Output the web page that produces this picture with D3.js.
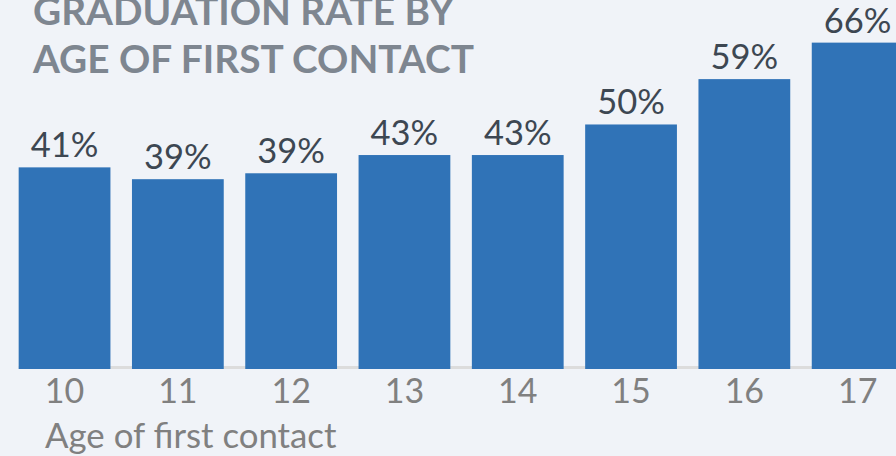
<!DOCTYPE html>
<html>
<head>
<meta charset="utf-8">
<script src="https://cdn.jsdelivr.net/npm/d3@7"></script>
<style>
  html, body { margin: 0; padding: 0; background: #f0f3f8; overflow: hidden; }
  svg { display: block; font-family: Lato, "Open Sans", sans-serif; }
</style>
</head>
<body>
<div id="chart"></div>
<script>
/* Graduation rate by age of first contact */

const ages = ["10", "11", "12", "13", "14", "15", "16", "17"];
const rates = [40.9, 38.5, 39.7, 43.4, 43.4, 49.6, 58.8, 66.2];
const rateLabels = ["41%", "39%", "39%", "43%", "43%", "50%", "59%", "66%"];
const titleLines = ["GRADUATION RATE BY", "AGE OF FIRST CONTACT"];
const xTitle = "Age of first contact";

const width = 896,
  height = 456,
  baseline = 369;

const svg = d3.select("#chart")
  .append("svg")
  .attr("width", width)
  .attr("height", height);

svg.append("rect")
  .attr("width", width)
  .attr("height", height)
  .attr("fill", "#f0f3f8");

const x = d3.scaleBand()
  .domain(ages)
  .range([7.9, 914.3])
  .paddingInner(0.19)
  .paddingOuter(0.095);

const y = d3.scaleLinear()
  .domain([0, 70])
  .range([baseline, baseline - 70 * 4.93]);

// title
svg.append("g")
  .selectAll("text")
  .data(titleLines)
  .join("text")
  .attr("x", 33)
  .attr("y", (d, i) => 25 + i * 48)
  .attr("font-size", 38.8)
  .attr("font-weight", "bold")
  .attr("fill", "#7e8690")
  .text(d => d);

// baseline rule
svg.append("rect")
  .attr("x", x(ages[0]))
  .attr("y", baseline - 3)
  .attr("width", width)
  .attr("height", 3)
  .attr("fill", "#dcdcdc");

const data = ages.map((a, i) => ({ age: a, rate: rates[i], label: rateLabels[i] }));

svg.append("g")
  .selectAll("rect")
  .data(data)
  .join("rect")
  .attr("x", d => x(d.age))
  .attr("y", d => y(d.rate))
  .attr("width", x.bandwidth())
  .attr("height", d => baseline - y(d.rate))
  .attr("fill", "#3073b7");

svg.append("g")
  .selectAll("text")
  .data(data)
  .join("text")
  .attr("x", d => x(d.age) + x.bandwidth() / 2)
  .attr("y", d => y(d.rate) - 10)
  .attr("text-anchor", "middle")
  .attr("font-size", 34.5)
  .attr("fill", "#3d4752")
  .text(d => d.label);

// x axis
const xAxis = svg.append("g")
  .attr("transform", `translate(0,${baseline})`)
  .call(d3.axisBottom(x).tickSize(0).tickPadding(34));

xAxis.select(".domain").remove();
xAxis.selectAll("text")
  .attr("font-size", 34)
  .attr("font-family", "Lato, sans-serif")
  .attr("fill", "#808080")
  .attr("dy", 0);

svg.append("text")
  .attr("x", 45)
  .attr("y", 448)
  .attr("font-size", 34.8)
  .attr("fill", "#808080")
  .text(xTitle);
</script>
</body>
</html>
